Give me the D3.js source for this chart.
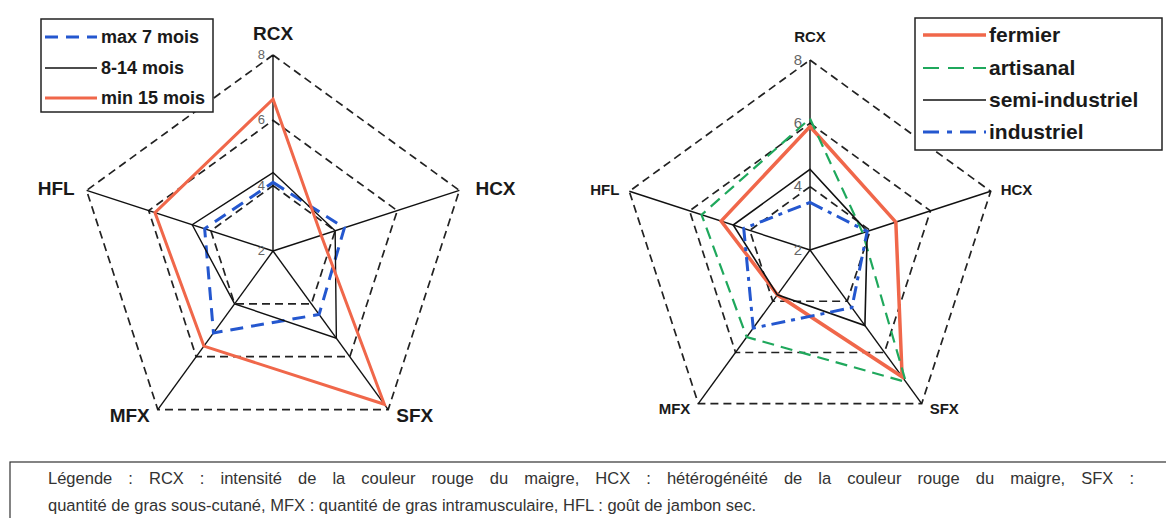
<!DOCTYPE html>
<meta charset="utf-8">
<script src="https://cdn.jsdelivr.net/npm/d3@7"></script>
<style>
    body { margin: 0; background: #fff; }
    svg { font-family: "Liberation Sans", Arial, sans-serif; }
</style>
<div id="chart"></div>
<script>
    // axes, clockwise from the top
    var axes = ["RCX", "HCX", "SFX", "MFX", "HFL"];
    var ringValues = [4, 6, 8];
    var tickLabels = ["2", "4", "6", "8"];

    // left chart : age of the ham
    var ageNames = ["max 7 mois", "8-14 mois", "min 15 mois"];
    var max7 = [4.1, 4.3, 4.4, 5.1, 4.2];
    var m8to14 = [4.4, 4.0, 5.3, 4.0, 4.6];
    var min15 = [6.65, 3.55, 7.8, 5.6, 5.8];

    // right chart : type of production
    var typeNames = ["fermier", "artisanal", "semi-industriel", "industriel"];
    var fermier = [5.9, 4.85, 6.95, 3.75, 4.95];
    var artisanal = [6.15, 3.75, 7.15, 5.4, 5.6];
    var semiIndustriel = [4.55, 3.9, 4.95, 3.75, 4.55];
    var industriel = [3.5, 3.9, 4.25, 5.05, 4.2];

    var caption1 = "Légende : RCX : intensité de la couleur rouge du maigre, HCX : hétérogénéité de la couleur rouge du maigre, SFX :";
    var caption2 = "quantité de gras sous-cutané, MFX : quantité de gras intramusculaire, HFL : goût de jambon sec.";

    var orange = "#f0674a", blue = "#2457cf", green = "#1fa85c";

    var width = 1166, height = 518;
    var svg = d3.select("#chart").append("svg")
        .attr("width", width)
        .attr("height", height);

    function radar(opt) {
        var g = svg.append("g")
            .attr("transform", "translate(" + opt.cx + "," + opt.cy + ")");
        var r = d3.scaleLinear().domain([2, 8]).range([0, opt.R]);
        var angle = d3.scalePoint().domain(axes).range([0, 2 * Math.PI * 4 / 5]);

        var pt = function(a, v) {
            var t = angle(a);
            return [r(v) * Math.sin(t), -r(v) * Math.cos(t)];
        };
        var poly = function(vals) {
            return axes.map(function(a, i) { return pt(a, vals[i]); });
        };
        var line = d3.line().curve(d3.curveLinearClosed);

        // dashed rings
        g.selectAll(".ring").data(ringValues).enter().append("path")
            .attr("d", function(v) { return line(axes.map(function(a) { return pt(a, v); })); })
            .attr("fill", "none")
            .attr("stroke", "#222")
            .attr("stroke-width", 1.7)
            .attr("stroke-dasharray", "8,5");

        // spokes
        g.selectAll(".spoke").data(axes).enter().append("line")
            .attr("x1", 0).attr("y1", 0)
            .attr("x2", function(a) { return pt(a, 8)[0]; })
            .attr("y2", function(a) { return pt(a, 8)[1]; })
            .attr("stroke", "#111")
            .attr("stroke-width", 1.4);

        // tick labels on the RCX axis
        g.selectAll(".tick").data(tickLabels).enter().append("text")
            .attr("x", -8)
            .attr("y", function(d) { return -r(+d); })
            .attr("dy", "0.3em")
            .attr("text-anchor", "end")
            .style("font-size", opt.tickSize + "px")
            .style("fill", "#666")
            .text(function(d) { return d; });

        // series
        opt.series.forEach(function(s) {
            g.append("path")
                .attr("d", line(poly(s.values)))
                .attr("fill", "none")
                .attr("stroke", s.color)
                .attr("stroke-width", s.width)
                .attr("stroke-dasharray", s.dash || null);
        });

        // axis names
        g.selectAll(".lab").data(axes).enter().append("text")
            .attr("x", function(a, i) { return pt(a, 8)[0] + opt.labelOffsets[i][0]; })
            .attr("y", function(a, i) { return pt(a, 8)[1] + opt.labelOffsets[i][1]; })
            .attr("text-anchor", function(a, i) { return opt.labelAnchor[i]; })
            .attr("dy", "0.35em")
            .style("font-size", opt.labelSize + "px")
            .style("font-weight", "bold")
            .style("fill", "#1a1a1a")
            .text(function(a) { return a; });

        // legend
        var L = opt.legend;
        svg.append("rect")
            .attr("x", L.x).attr("y", L.y)
            .attr("width", L.w).attr("height", L.h)
            .attr("fill", "#fff")
            .attr("stroke", "#222")
            .attr("stroke-width", 1.5);
        opt.series.forEach(function(s, i) {
            var y = L.rows[i];
            svg.append("line")
                .attr("x1", L.lx1).attr("x2", L.lx2)
                .attr("y1", y).attr("y2", y)
                .attr("stroke", s.color)
                .attr("stroke-width", s.width)
                .attr("stroke-dasharray", s.legendDash || s.dash || null);
            svg.append("text")
                .attr("x", L.tx).attr("y", y)
                .attr("dy", "0.35em")
                .style("font-size", L.size + "px")
                .style("font-weight", "bold")
                .style("fill", "#1a1a1a")
                .text(s.name);
        });
    }

    radar({
        cx: 273, cy: 251, R: 196, tickSize: 13, labelSize: 19,
        labelOffsets: [[0, -22], [16, -2], [8, 6], [-8, 6], [-12, -2]],
        labelAnchor: ["middle", "start", "start", "end", "end"],
        series: [
            { name: ageNames[0], values: max7, color: blue, width: 3, dash: "13,8" },
            { name: ageNames[1], values: m8to14, color: "#111", width: 1.4 },
            { name: ageNames[2], values: min15, color: orange, width: 3 }
        ],
        legend: { x: 41, y: 19, w: 172, h: 93, rows: [37, 68, 98], lx1: 45, lx2: 97, tx: 101, size: 18 }
    });

    radar({
        cx: 810, cy: 250, R: 190, tickSize: 15, labelSize: 15,
        labelOffsets: [[0, -23], [10, -2], [8, 5], [-8, 5], [-10, -2]],
        labelAnchor: ["middle", "start", "start", "end", "end"],
        series: [
            { name: typeNames[0], values: fermier, color: orange, width: 3.5 },
            { name: typeNames[1], values: artisanal, color: green, width: 2.2, dash: "12,7", legendDash: "16,9" },
            { name: typeNames[2], values: semiIndustriel, color: "#111", width: 1.6 },
            { name: typeNames[3], values: industriel, color: blue, width: 3, dash: "14,6,4,6", legendDash: "16,8,5,8" }
        ],
        legend: { x: 915, y: 18, w: 247, h: 132, rows: [35, 68, 100, 132], lx1: 923, lx2: 986, tx: 989, size: 21 }
    });

    // caption box, justified first line, condensed glyphs
    svg.append("rect")
        .attr("x", 10).attr("y", 462)
        .attr("width", 1200).attr("height", 80)
        .attr("fill", "none")
        .attr("stroke", "#333")
        .attr("stroke-width", 1.2);

    var capG = svg.append("g");
    var c1 = capG.append("text")
        .attr("y", 484)
        .style("font-size", "17px")
        .style("fill", "#333")
        .text(caption1);
    var c2 = capG.append("text")
        .attr("y", 511)
        .style("font-size", "17px")
        .style("fill", "#333")
        .text(caption2);
    var sx = 709 / c2.node().getComputedTextLength();
    var w1 = c1.node().getComputedTextLength();
    var spaces = caption1.split(" ").length - 1;
    c1.style("word-spacing", ((1087 / sx - w1) / spaces) + "px");
    capG.attr("transform", "translate(48,0) scale(" + sx + ",1)");
</script>
